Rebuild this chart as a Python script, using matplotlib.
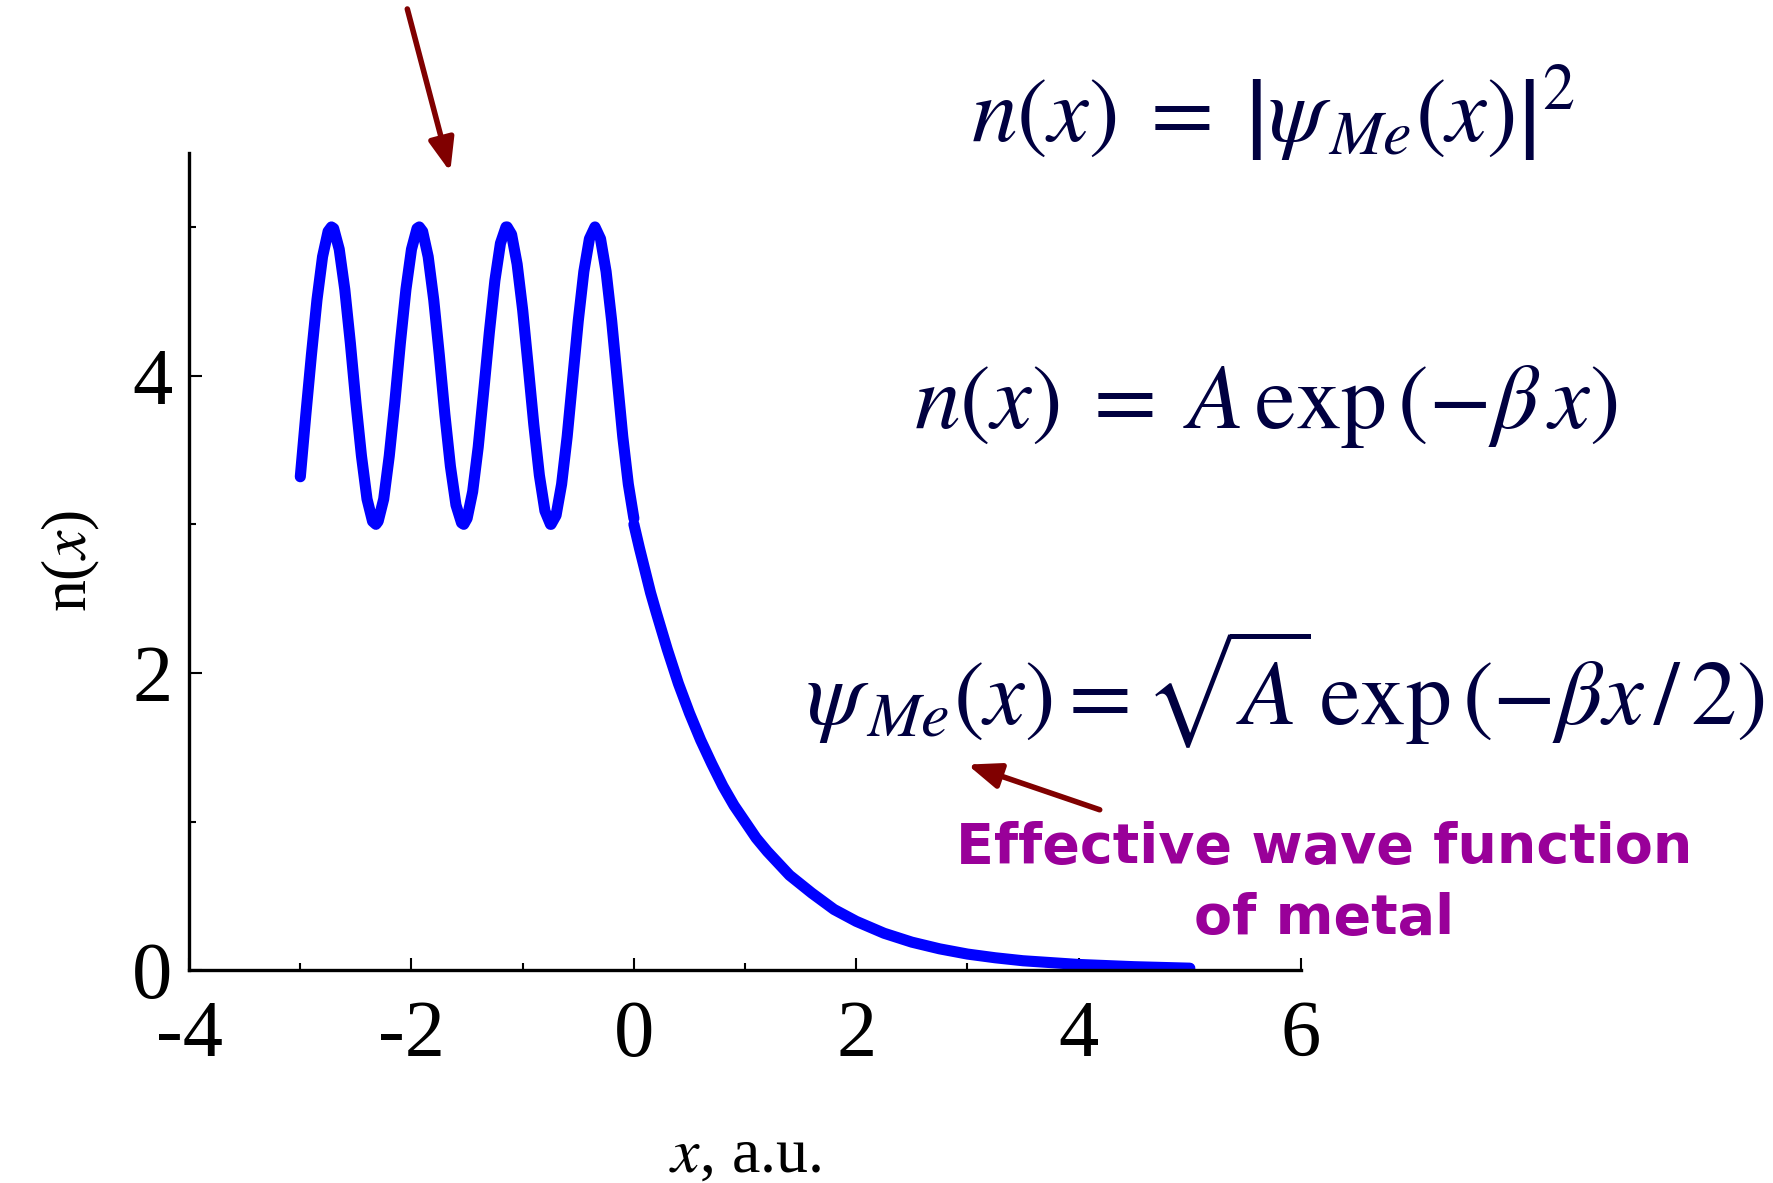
import matplotlib
matplotlib.use("Agg")
import matplotlib.pyplot as plt
from matplotlib.ticker import MultipleLocator

plt.rcParams['font.family'] = ['Liberation Serif', 'DejaVu Serif']
plt.rcParams['mathtext.fontset'] = 'stix'

# --- data ---
# oscillating density inside the metal (x < 0)
x_metal = [-3.00, -2.95, -2.90, -2.85, -2.80, -2.75, -2.72, -2.70, -2.65, -2.60,
           -2.55, -2.50, -2.45, -2.40, -2.35, -2.32, -2.30, -2.25, -2.20, -2.15,
           -2.10, -2.05, -2.00, -1.95, -1.93, -1.90, -1.85, -1.80, -1.75, -1.70,
           -1.65, -1.60, -1.55, -1.53, -1.50, -1.45, -1.40, -1.35, -1.30, -1.25,
           -1.20, -1.15, -1.14, -1.10, -1.05, -1.00, -0.95, -0.90, -0.85, -0.80,
           -0.75, -0.745, -0.70, -0.65, -0.60, -0.55, -0.50, -0.45, -0.40, -0.35,
           -0.30, -0.25, -0.20, -0.15, -0.10, -0.05, 0.00]
n_metal = [3.32, 3.74, 4.14, 4.51, 4.80, 4.97, 5.00, 4.99, 4.85, 4.58,
           4.22, 3.82, 3.46, 3.17, 3.02, 3.00, 3.02, 3.17, 3.46, 3.82,
           4.22, 4.58, 4.85, 4.99, 5.00, 4.97, 4.80, 4.51, 4.14, 3.74,
           3.39, 3.13, 3.01, 3.00, 3.04, 3.22, 3.52, 3.90, 4.29, 4.64,
           4.89, 5.00, 5.00, 4.95, 4.75, 4.44, 4.06, 3.67, 3.33, 3.09,
           3.00, 3.00, 3.06, 3.27, 3.59, 3.98, 4.37, 4.70, 4.92, 5.00,
           4.92, 4.70, 4.37, 3.98, 3.59, 3.27, 3.04]
# exponential tail outside the metal (x > 0)
x_tail = [0.00, 0.05, 0.10, 0.15, 0.20, 0.30, 0.40, 0.50, 0.60, 0.70, 0.80, 0.90,
          1.00, 1.10, 1.20, 1.40, 1.60, 1.80, 2.00, 2.25, 2.50, 2.75, 3.00,
          3.25, 3.50, 4.00, 4.50, 5.00]
n_tail = [3.00, 2.84, 2.69, 2.54, 2.41, 2.16, 1.93, 1.73, 1.55, 1.39, 1.24, 1.11,
          1.00, 0.89, 0.80, 0.64, 0.52, 0.41, 0.33, 0.25, 0.19, 0.145, 0.11,
          0.085, 0.065, 0.04, 0.025, 0.015]

x_major = [-4, -2, 0, 2, 4, 6]
x_labels = ['-4', '-2', '0', '2', '4', '6']
y_major = [0, 2, 4]
y_labels = ['0', '2', '4']

eq1 = r'$n\left(x\right)\;=\;\left|\psi_{\,Me}\left(x\right)\right|^{2}$'
eq2 = r'$n\left(x\right)\;=\;A\,\exp\left(-\beta\, x\right)$'
eq3 = r'$\psi_{\,Me}\left(x\right)=\sqrt{A}\,\exp\left(-\beta x\,/\,2\right)$'
note = 'Effective wave function\nof metal'

blue = '#0000FF'
navy = '#000040'
darkred = '#800000'
purple = '#990099'

fig = plt.figure(figsize=(17.74, 11.83), dpi=100)
ax = fig.add_axes([0.1066, 0.1797, 0.6268, 0.6913])

ax.plot(x_metal, n_metal, color=blue, lw=8, solid_capstyle='round', solid_joinstyle='round')
ax.plot(x_tail, n_tail, color=blue, lw=8, solid_capstyle='round', solid_joinstyle='round')

ax.set_xlim(-4, 6)
ax.set_ylim(0, 5.5)
for s in ['top', 'right']:
    ax.spines[s].set_visible(False)
for s in ['left', 'bottom']:
    ax.spines[s].set_linewidth(2.4)
ax.spines['left'].set_bounds(0, 5.5)

ax.set_xticks(x_major)
ax.set_xticklabels(x_labels)
ax.set_yticks(y_major)
ax.set_yticklabels(y_labels)
ax.xaxis.set_minor_locator(MultipleLocator(1))
ax.yaxis.set_minor_locator(MultipleLocator(1))
ax.tick_params(which='major', direction='in', length=9, width=1.5, labelsize=58)
ax.tick_params(which='minor', direction='in', length=5, width=1.5)
ax.tick_params(axis='x', which='major', pad=21)
ax.tick_params(axis='y', which='major', pad=12)

ax.set_xlabel(r'$x$, a.u.', fontsize=46, labelpad=40)
ax.set_ylabel(r'n($x$)', fontsize=46, labelpad=22)

fig.text(0.7176, 0.904, eq1, fontsize=66, color=navy, ha='center', va='center')
fig.text(0.7137, 0.656, eq2, fontsize=66, color=navy, ha='center', va='center')
fig.text(0.7245, 0.417, eq3, fontsize=66, color=navy, ha='center', va='center')

fig.text(0.7462, 0.253, note, fontsize=40, color=purple, ha='center', va='center',
         family='DejaVu Sans', fontweight='bold', linespacing=1.4)

arrow_kw = dict(arrowstyle='-|>,head_length=0.9,head_width=0.35', color=darkred,
                lw=4, mutation_scale=22, shrinkA=0, shrinkB=0)
fig.add_artist(matplotlib.patches.FancyArrowPatch((0.2296, 0.9924), (0.2538, 0.8547),
               transform=fig.transFigure, **arrow_kw))
fig.add_artist(matplotlib.patches.FancyArrowPatch((0.6199, 0.3155), (0.5453, 0.3537),
               transform=fig.transFigure, **arrow_kw))

fig.savefig('out.png', dpi=100)
